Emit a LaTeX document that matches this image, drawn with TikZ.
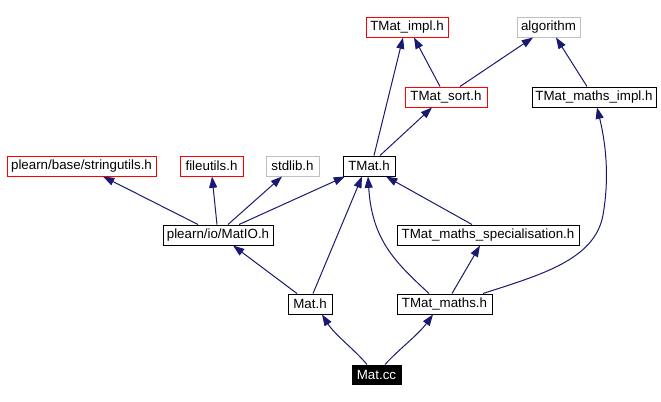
\documentclass[tikz,border=0pt]{standalone}
\usepackage{fontspec}
\setmainfont{Liberation Sans}
\usetikzlibrary{arrows.meta,calc}
\definecolor{edgeblue}{HTML}{191970}
\definecolor{boxgray}{HTML}{BFBFBF}
\begin{document}
\begin{tikzpicture}[x=0.75pt,y=-0.75pt,
  box/.style={draw=black,line width=0.75pt,inner sep=0pt,minimum height=15pt,font=\fontsize{10pt}{12pt}\selectfont,text=black},
  redbox/.style={box,draw=red},
  graybox/.style={box,draw=boxgray},
  rootbox/.style={box,fill=black,text=white,minimum height=14.25pt},
  edge/.style={draw=edgeblue,line width=0.75pt,-{Triangle[length=8.5pt,width=6pt]}}]
\useasboundingbox (0,0) rectangle (661,401);
% nodes
\node[redbox,minimum width=61.5pt] (impl) at (407,27) {TMat\_impl.h};
\node[graybox,minimum width=47.25pt] (algo) at (548.5,27) {algorithm};
\node[redbox,minimum width=61.5pt] (sort) at (446,97) {TMat\_sort.h};
\node[box,minimum width=93pt] (mimpl) at (594,97) {TMat\_maths\_impl.h};
\node[redbox,minimum width=111.75pt] (strutils) at (81.5,166) {plearn/base/stringutils.h};
\node[redbox,minimum width=47.25pt] (fileutils) at (211.5,166) {fileutils.h};
\node[graybox,minimum width=39.75pt] (stdlib) at (292.5,166) {stdlib.h};
\node[box,minimum width=39pt] (tmat) at (369,166) {TMat.h};
\node[box,minimum width=82.5pt] (matio) at (218,235) {plearn/io/MatIO.h};
\node[box,minimum width=136.5pt] (spec) at (488,235) {TMat\_maths\_specialisation.h};
\node[box,minimum width=33pt] (math) at (310,304) {Mat.h};
\node[box,minimum width=71.25pt] (tmaths) at (444.5,304) {TMat\_maths.h};
\node[rootbox,minimum width=36.75pt] (matcc) at (376.5,374.5) {Mat.cc};
% edges
\draw[edge] ($(sort.north)+(-6,0)$) -- ($(impl.south)+(7,0)$);
\draw[edge] ($(sort.north)+(14,0)$) -- ($(algo.south)+(-15.5,0)$);
\draw[edge] ($(mimpl.north)+(-7,0)$) -- ($(algo.south)+(7.5,0)$);
\draw[edge] ($(tmat.north)+(5,0)$) -- ($(impl.south)+(-4,0)$);
\draw[edge] ($(tmat.north)+(11,0)$) -- ($(sort.south)+(-14,0)$);
\draw[edge] ($(matio.north)+(-20,0)$) -- ($(strutils.south)+(21.5,0)$);
\draw[edge] ($(matio.north)+(-1,0)$) -- ($(fileutils.south)+(0.5,0)$);
\draw[edge] ($(matio.north)+(10,0)$) -- ($(stdlib.south)+(-10.5,0)$);
\draw[edge] ($(matio.north)+(21,0)$) -- ($(tmat.south)+(-24,0)$);
\draw[edge] ($(math.north)+(-13,0)$) -- ($(matio.south)+(15,0)$);
\draw[edge] ($(math.north)+(3,0)$) -- ($(tmat.south)+(-7,0)$);
\draw[edge] ($(tmaths.north)+(-15.5,0)$) .. controls (395,262) and (372,240) .. ($(tmat.south)+(-1,0)$);
\draw[edge] ($(spec.north)+(-16,0)$) -- ($(tmat.south)+(17,0)$);
\draw[edge] ($(tmaths.north)+(7.5,0)$) -- ($(spec.south)+(-8,0)$);
\draw[edge] ($(tmaths.north)+(38.5,0)$) .. controls (540,275) and (595,260) .. (603,215) .. controls (610,175) and (605,140) .. ($(mimpl.south)+(3,0)$);
\draw[edge] ($(matcc.north)+(-9.5,0)$) .. controls (355,350) and (335,335) .. ($(math.south)+(12,0)$);
\draw[edge] ($(matcc.north)+(8.5,0)$) .. controls (398,350) and (418,335) .. ($(tmaths.south)+(-11.5,0)$);
\end{tikzpicture}
\end{document}
